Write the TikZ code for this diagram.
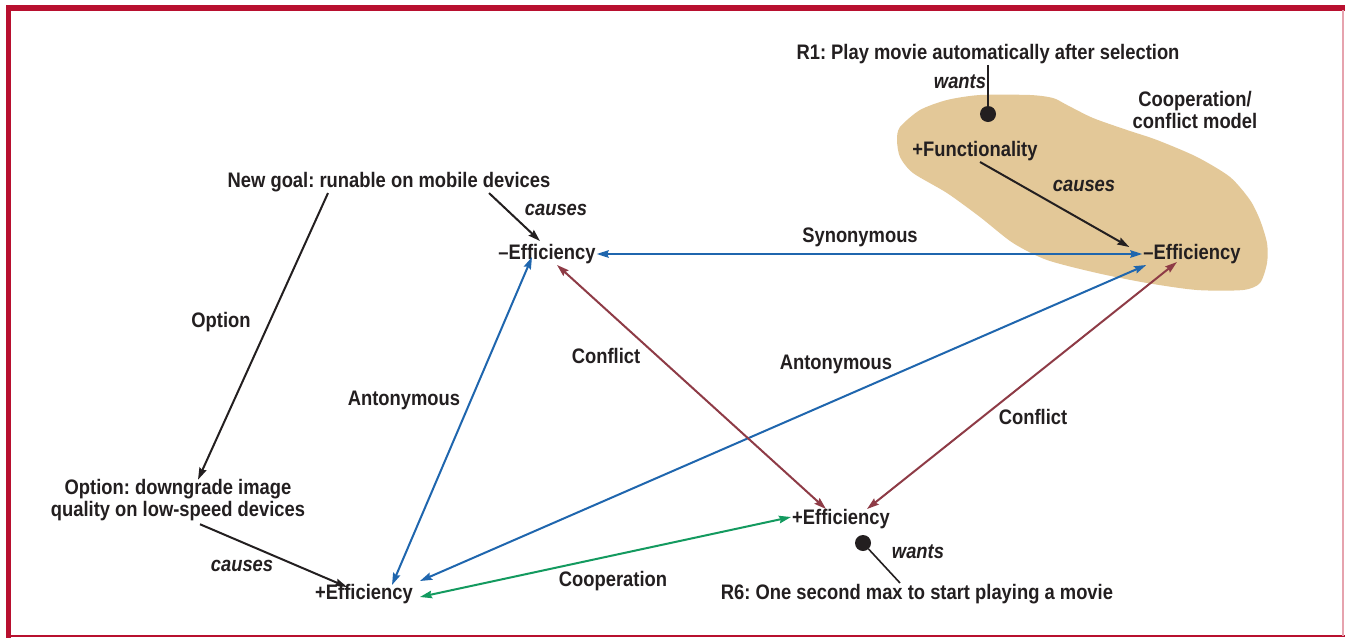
\documentclass[tikz,border=0pt]{standalone}
\usepackage{fontspec}
\setmainfont{Liberation Sans}[FakeStretch=0.875]
\usetikzlibrary{arrows.meta}
\definecolor{framered}{HTML}{B8102F}
\definecolor{framepink}{HTML}{E6A3AE}
\definecolor{blobtan}{HTML}{E3C898}
\definecolor{linkblue}{HTML}{1F66AE}
\definecolor{linkred}{HTML}{8E3B46}
\definecolor{linkgreen}{HTML}{139A5F}
\definecolor{ink}{HTML}{231F20}
\frenchspacing
\tikzset{
  lbl/.style={font=\fontsize{21}{22.5}\selectfont\bfseries, text=ink, inner sep=1pt, align=center},
  verb/.style={font=\fontsize{21}{22.5}\selectfont\bfseries\itshape, text=ink, inner sep=1pt},
  tip/.style={-{Stealth[length=12pt,width=7.5pt,inset=1.5pt]}},
  both/.style={{Stealth[length=12pt,width=7.5pt,inset=1.5pt]}-{Stealth[length=12pt,width=7.5pt,inset=1.5pt]}},
  causal/.style={tip, draw=ink, line width=2pt},
  relblue/.style={both, draw=linkblue, line width=2pt},
  relred/.style={both, draw=linkred, line width=2pt},
  relgreen/.style={both, draw=linkgreen, line width=2pt},
  pin/.style={circle, fill=ink, minimum size=16pt, inner sep=0pt},
}
\begin{document}
\begin{tikzpicture}[x=1pt, y=-1pt]
\useasboundingbox (0,0) rectangle (1345,638);
\fill[white] (0,0) rectangle (1345,638);

% frame
\fill[framered] (6,5) rectangle (1345,10.5);
\fill[framered] (6,5) rectangle (11,638);
\draw[framered, line width=2pt] (6,636) -- (1345,636);
\draw[framepink, line width=1.2pt] (1343,10) -- (1343,636);

% cooperation/conflict region
\fill[blobtan] plot[smooth cycle, tension=0.45] coordinates {
  (897,140) (900,127) (920,110) (947,100) (980,95) (1030,95) (1053,98)
  (1067,105) (1093,118) (1127,130) (1157,140) (1197,157) (1230,177)
  (1250,200) (1260,220) (1267,243) (1267,263) (1260,283) (1243,290)
  (1197,290) (1147,283) (1097,273) (1047,260) (1013,243) (980,217)
  (947,193) (913,173) (900,157)};

% nodes
\node[lbl] (r1) at (988,54) {R1: Play movie automatically after selection};
\node[pin] (dot1) at (988,114) {};
\node[lbl] (model) at (1195,110) {Cooperation/\\conflict model};
\node[lbl] (func) at (975,151) {+Functionality};
\node[lbl] (effR) at (1192,254) {–Efficiency};
\node[lbl] (effL) at (547,254) {–Efficiency};
\node[lbl] (goal) at (389,182) {New goal: runable on mobile devices};
\node[lbl] (opt) at (178,500) {Option: downgrade image\\quality on low-speed devices};
\node[lbl] (effPL) at (364,594) {+Efficiency};
\node[lbl] (effPR) at (841,519) {+Efficiency};
\node[pin] (dot2) at (863,543) {};
\node[lbl] (r6) at (917,594) {R6: One second max to start playing a movie};

% verbs
\node[verb] (w1) at (960,82) {wants};
\node[verb] (c1) at (1084,186) {causes};
\node[verb] (c2) at (556,210) {causes};
\node[verb] (c3) at (242,566) {causes};
\node[verb] (w2) at (918,552) {wants};

% relation labels
\node[lbl] (syn) at (860,237) {Synonymous};
\node[lbl] (optl) at (221,322) {Option};
\node[lbl] (antL) at (404,400) {Antonymous};
\node[lbl] (conL) at (606,356) {Conflict};
\node[lbl] (antR) at (836,364) {Antonymous};
\node[lbl] (conR) at (1033,417) {Conflict};
\node[lbl] (coop) at (613,581) {Cooperation};

% wants links
\draw[ink, line width=1.6pt] (r1) -- (dot1);
\draw[ink, line width=1.6pt] (dot2) -- ([xshift=-17pt]r6.north);

% causal links
\draw[causal] ([xshift=5pt]func.south) -- ([xshift=-13pt,yshift=-4pt]effR.north west);
\draw[causal] ([xshift=100pt]goal.south) -- ([xshift=-7pt,yshift=2pt]effL.north);
\draw[causal] ([xshift=-61pt]goal.south) -- ([xshift=20pt,yshift=-2pt]opt.north);
\draw[causal] ([xshift=22pt,yshift=-2pt]opt.south) -- ([xshift=-17pt,yshift=-4pt]effPL.north);

% relations
\draw[relblue] (effL.east) -- (effR.west);
\draw[relblue] ([xshift=28pt,yshift=-2pt]effPL.north) -- ([xshift=-15pt,yshift=8pt]effL.south);
\draw[relblue] ([xshift=6pt,yshift=2pt]effPL.north east) -- ([xshift=4pt,yshift=0pt]effR.south west);
\draw[relred] ([xshift=10pt,yshift=0pt]effL.south) -- ([xshift=-15pt,yshift=-1pt]effPR.north);
\draw[relred] ([xshift=26pt,yshift=-1pt]effPR.north) -- ([xshift=-15pt,yshift=3pt]effR.south);
\draw[relgreen] ([xshift=6pt,yshift=-3pt]effPL.east) -- ([yshift=2pt]effPR.west);
\end{tikzpicture}
\end{document}
